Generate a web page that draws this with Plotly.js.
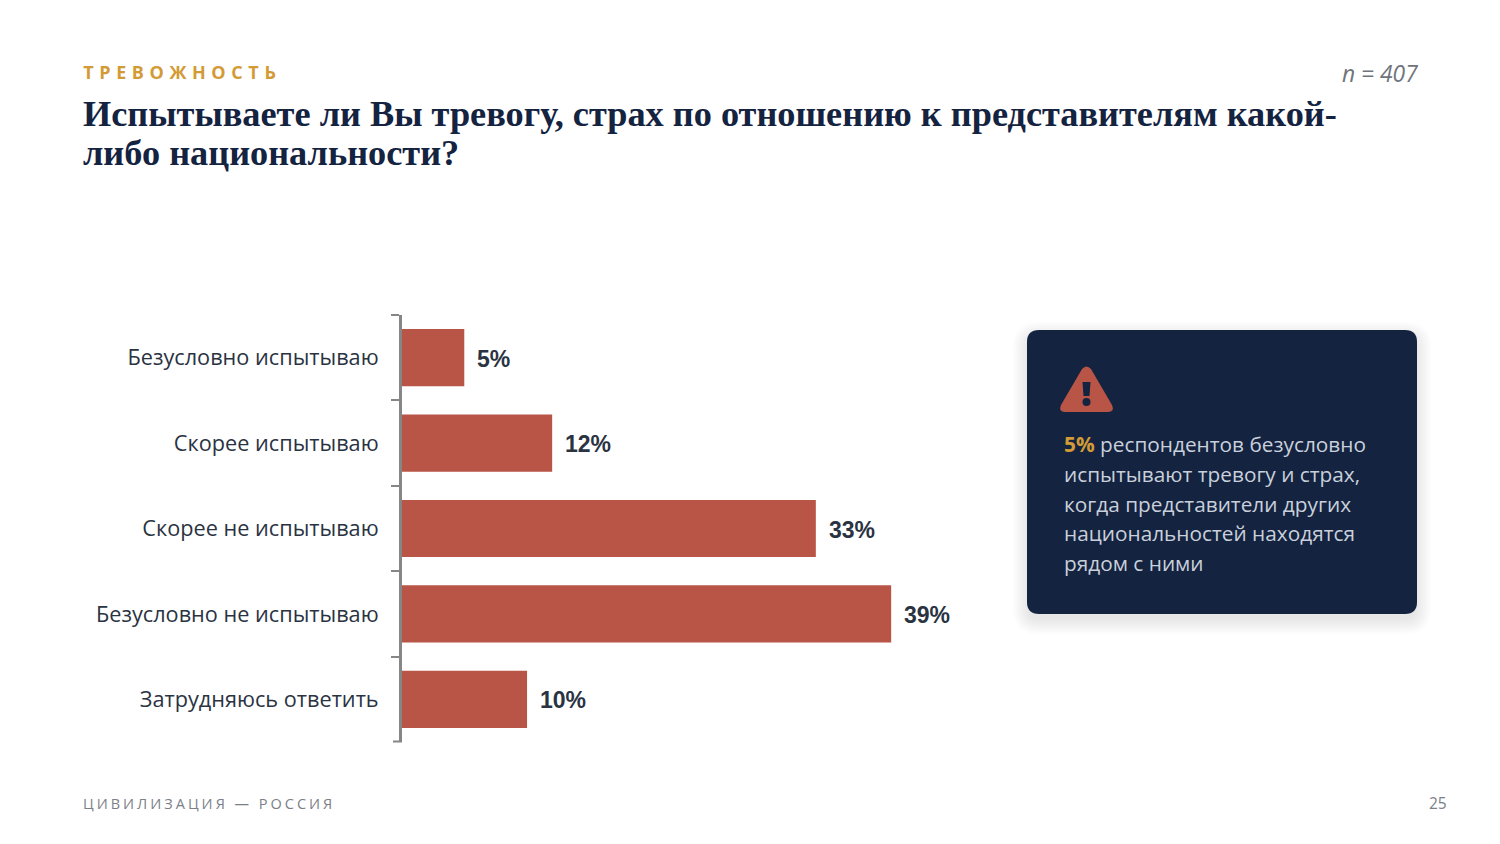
<!DOCTYPE html>
<html>
<head>
<meta charset="utf-8">
<script src="https://cdn.plot.ly/plotly-3.0.1.min.js"></script>
<style>
  html, body { margin: 0; padding: 0; background: #fff; }
  #chart { width: 1500px; height: 844px; }
  /* plotly fonts have no letter spacing option */
  .annotation[data-index="0"] text { letter-spacing: 5.6px; }
  .annotation[data-index="1"] text { letter-spacing: 3px; }
</style>
</head>
<body>
<div id="chart"></div>
<script>
const categories = ['Безусловно испытываю', 'Скорее испытываю', 'Скорее не испытываю', 'Безусловно не испытываю', 'Затрудняюсь ответить'];
const values = [5, 12, 33, 39, 10];
const titleLines = ['Испытываете ли Вы тревогу, страх по отношению к представителям какой-', 'либо национальности?'];
const calloutLines = [
  '<b><span style="color:#D39B35">5%</span></b> респондентов безусловно',
  'испытывают тревогу и страх,',
  'когда представители других',
  'национальностей находятся',
  'рядом с ними',
];

const NAVY = '#14233F';
const BAR = '#B85546';
const AXIS = '#868686';

// rounded rect path in page pixels
function roundRect(x0, y0, x1, y1, r) {
  return `M${x0 + r},${y0} L${x1 - r},${y0} Q${x1},${y0} ${x1},${y0 + r} L${x1},${y1 - r} Q${x1},${y1} ${x1 - r},${y1} ` +
    `L${x0 + r},${y1} Q${x0},${y1} ${x0},${y1 - r} L${x0},${y0 + r} Q${x0},${y0} ${x0 + r},${y0} Z`;
}

function pageText(text, x, y, size, color, family, extra) {
  return Object.assign({
    text, x, y, xref: 'x2', yref: 'y2', showarrow: false, xanchor: 'left', yanchor: 'middle',
    font: { size, color, family },
  }, extra || {});
}

// letter spaced texts get centred by the browser, so x is pushed right by half the extra width
const annotations = [
  pageText('ТРЕВОЖНОСТЬ', 111.5, 72, 18, '#D39B35', 'Open Sans', { font: { size: 18, color: '#D39B35', family: 'Open Sans', weight: 700 } }),
  pageText('ЦИВИЛИЗАЦИЯ — РОССИЯ', 111, 803, 14.5, '#7B8088', 'Open Sans'),
  pageText('n = 407', 1420, 73, 22.8, '#6F747C', 'Open Sans', { xanchor: 'right', font: { size: 22.8, color: '#6F747C', family: 'Open Sans', style: 'italic' } }),
  pageText('25', 1449, 803, 15.5, '#7B8088', 'Open Sans', { xanchor: 'right' }),
];
titleLines.forEach((line, i) => {
  annotations.push(pageText(line, 81, 114 + i * 39, 36.3, NAVY, 'Liberation Serif', { font: { size: 36.3, color: NAVY, family: 'Liberation Serif', weight: 700 } }));
});
calloutLines.forEach((line, i) => {
  annotations.push(pageText(line, 1062, 444 + i * 29.75, 20.8, '#C9D0DC', 'Open Sans'));
});
// value labels
values.forEach((v, i) => {
  annotations.push({
    text: v + '%', x: v, y: categories[i], xref: 'x', yref: 'y', xanchor: 'left', yanchor: 'middle',
    xshift: 11, yshift: -1, showarrow: false,
    font: { size: 23, color: '#2A3342', family: 'Liberation Sans', weight: 700 },
  });
});

const shapes = [];
// soft shadow under the card
for (let i = 0; i < 8; i++) {
  shapes.push({
    type: 'path', xref: 'x2', yref: 'y2', layer: 'below', line: { width: 0 }, fillcolor: 'rgba(0,0,0,0.012)',
    path: roundRect(1027 - i * 2, 336 - i * 2, 1417 + i * 2, 620 + i * 2, 12 + i * 2),
  });
}
shapes.push({ type: 'path', xref: 'x2', yref: 'y2', layer: 'below', line: { width: 0 }, fillcolor: NAVY, path: roundRect(1027, 330, 1417, 614, 12) });
// warning icon
shapes.push({
  type: 'path', xref: 'x2', yref: 'y2', line: { width: 0 }, fillcolor: BAR,
  path: 'M1082,369 Q1086.5,364 1091,369 L1112,405 Q1115,412 1108,412 L1065,412 Q1058,412 1061,405 Z',
});
shapes.push({ type: 'path', xref: 'x2', yref: 'y2', line: { width: 0 }, fillcolor: NAVY, path: 'M1082.5,382 L1090.5,382 L1089.5,396 L1083.5,396 Z' });
shapes.push({ type: 'circle', xref: 'x2', yref: 'y2', line: { width: 0 }, fillcolor: NAVY, x0: 1082.5, x1: 1090.5, y0: 398, y1: 406 });
// plotly drops the last boundary tick on a reversed category axis
shapes.push({ type: 'line', xref: 'x2', yref: 'y2', x0: 393, x1: 402, y0: 741.5, y1: 741.5, line: { color: AXIS, width: 2 } });

const data = [{
  type: 'bar',
  orientation: 'h',
  x: values,
  y: categories,
  marker: { color: BAR },
  hoverinfo: 'skip',
}];

const layout = {
  width: 1500,
  height: 844,
  margin: { l: 0, r: 0, t: 0, b: 0 },
  paper_bgcolor: '#fff',
  plot_bgcolor: 'rgba(0,0,0,0)',
  showlegend: false,
  bargap: 0.33,
  xaxis: { domain: [401.5 / 1500, 966.5 / 1500], range: [0, 45], visible: false, fixedrange: true },
  yaxis: {
    domain: [1 - 742 / 844, 1 - 315 / 844],
    type: 'category',
    autorange: 'reversed',
    anchor: 'x',
    tickson: 'boundaries',
    ticks: 'outside',
    ticklen: 8,
    tickwidth: 2,
    tickcolor: AXIS,
    showline: true,
    linecolor: AXIS,
    linewidth: 2.5,
    showgrid: false,
    zeroline: false,
    ticklabelstandoff: 16,
    tickfont: { size: 21.7, color: '#2A3342', family: 'Open Sans' },
  },
  // page-wide pixel axes for the slide furniture
  xaxis2: { domain: [0, 1], range: [0, 1500], visible: false, anchor: 'y2' },
  yaxis2: { domain: [0, 1], range: [844, 0], visible: false, anchor: 'x2' },
  annotations,
  shapes,
};

Plotly.newPlot('chart', data, layout, { displayModeBar: false, staticPlot: true });
</script>
</body>
</html>
